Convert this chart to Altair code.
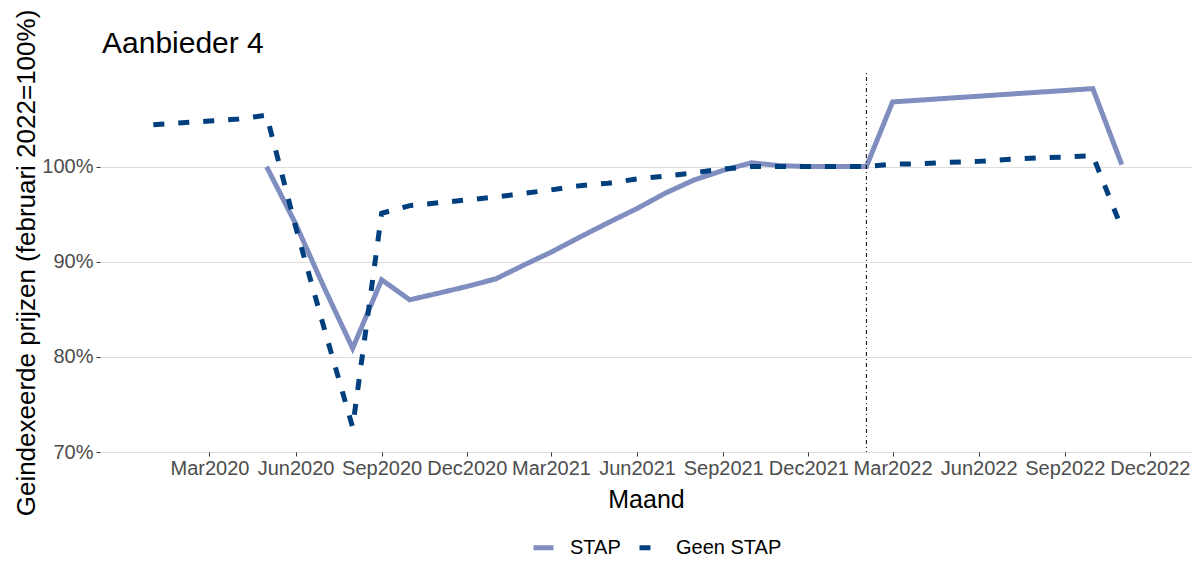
import altair as alt
import pandas as pd

# ---- data ----
stap_dates = [
    "2020-05-01", "2020-06-01", "2020-07-01", "2020-08-01", "2020-09-01",
    "2020-10-01", "2020-11-01", "2020-12-01", "2021-01-01", "2021-02-01",
    "2021-03-01", "2021-04-01", "2021-05-01", "2021-06-01", "2021-07-01",
    "2021-08-01", "2021-09-01", "2021-10-01", "2021-11-01", "2021-12-01",
    "2022-01-01", "2022-02-01", "2022-03-01", "2022-04-01", "2022-05-01",
    "2022-06-01", "2022-07-01", "2022-08-01", "2022-09-01", "2022-10-01",
    "2022-11-01",
]
stap_values = [
    1.000, 0.940, 0.874, 0.809, 0.881,
    0.860, 0.867, 0.874, 0.882, 0.897,
    0.910, 0.926, 0.941, 0.956, 0.972,
    0.986, 0.996, 1.004, 1.001, 1.000,
    1.000, 1.000, 1.068, 1.070, 1.072,
    1.074, 1.076, 1.078, 1.080, 1.082,
    1.002,
]

geen_dates = [
    "2020-01-01", "2020-02-01", "2020-03-01", "2020-04-01", "2020-05-01",
    "2020-06-01", "2020-07-01", "2020-08-01", "2020-09-01", "2020-10-01",
    "2020-11-01", "2020-12-01", "2021-01-01", "2021-02-01", "2021-03-01",
    "2021-04-01", "2021-05-01", "2021-06-01", "2021-07-01", "2021-08-01",
    "2021-09-01", "2021-10-01", "2021-11-01", "2021-12-01", "2022-01-01",
    "2022-02-01", "2022-03-01", "2022-04-01", "2022-05-01", "2022-06-01",
    "2022-07-01", "2022-08-01", "2022-09-01", "2022-10-01", "2022-11-01",
]
geen_values = [
    1.044, 1.046, 1.048, 1.050, 1.054,
    0.937, 0.832, 0.726, 0.951, 0.959,
    0.962, 0.965, 0.968, 0.972, 0.9755,
    0.980, 0.9825, 0.987, 0.990, 0.9935,
    0.9975, 1.000, 1.000, 1.000, 1.000,
    1.000, 1.0025, 1.003, 1.0045, 1.0055,
    1.0075, 1.009, 1.010, 1.0115, 0.935,
]

series_names = ["STAP", "Geen STAP"]
series_colors = ["#7F8EBF", "#003F7D"]
series_dashes = [[1, 0], [11, 14]]

tick_dates = [
    (2020, 3), (2020, 6), (2020, 9), (2020, 12),
    (2021, 3), (2021, 6), (2021, 9), (2021, 12),
    (2022, 3), (2022, 6), (2022, 9), (2022, 12),
]
y_ticks = [0.7, 0.8, 0.9, 1.0]
ref_date = (2022, 2, 1)

df = pd.concat([
    pd.DataFrame({"Maand": stap_dates, "waarde": stap_values, "reeks": "STAP"}),
    pd.DataFrame({"Maand": geen_dates, "waarde": geen_values, "reeks": "Geen STAP"}),
], ignore_index=True)

FONT = "Liberation Sans"

x_scale = alt.Scale(
    type="utc",
    domain=[alt.DateTime(year=2019, month=11, date=5, utc=True),
            alt.DateTime(year=2023, month=1, date=15, utc=True)],
)
y_scale = alt.Scale(domain=[0.70, 1.0984], nice=False, zero=False)

x_axis = alt.Axis(
    title="Maand",
    values=[alt.DateTime(year=y, month=m, date=1, utc=True) for y, m in tick_dates],
    format="%b%Y",
    labelFontSize=20, labelColor="#4D4D4D", labelFont=FONT,
    tickColor="#333333", tickSize=4, labelPadding=2,
    titleFontSize=25, titleFont=FONT, titleFontWeight="normal",
    titleColor="black", titlePadding=9,
    grid=False, domain=False, labelOverlap=False,
)
y_axis = alt.Axis(
    title="Geindexeerde prijzen (februari 2022=100%)",
    values=y_ticks, format=".0%",
    labelFontSize=20, labelColor="#4D4D4D", labelFont=FONT,
    tickColor="#333333", tickSize=4, labelPadding=3,
    titleFontSize=26, titleFont=FONT, titleFontWeight="normal",
    titleColor="black", titlePadding=2,
    grid=True, gridColor="#DEDEDE", gridWidth=1, domain=False,
)

legend = alt.Legend(
    title=None, orient="none", legendX=431, legendY=462,
    direction="horizontal", symbolType="stroke", symbolStrokeWidth=5,
    symbolSize=400, labelFontSize=20, labelFont=FONT, labelColor="black",
    columnPadding=8, labelOffset=14,
)

color_enc = alt.Color("reeks:N", scale=alt.Scale(domain=series_names, range=series_colors), legend=legend)
dash_enc = alt.StrokeDash("reeks:N", scale=alt.Scale(domain=series_names, range=series_dashes), legend=legend)

base = alt.Chart(df).mark_line(strokeWidth=5, strokeCap="butt").encode(
    x=alt.X("Maand:T", scale=x_scale, axis=x_axis),
    y=alt.Y("waarde:Q", scale=y_scale, axis=y_axis),
    color=color_enc,
    strokeDash=dash_enc,
)

stap_layer = base.transform_filter(alt.datum.reeks == "STAP")
geen_layer = base.transform_filter(alt.datum.reeks == "Geen STAP")

vline = alt.Chart(pd.DataFrame({"d": [0]})).mark_rule(
    color="black", strokeWidth=1, strokeDash=[1, 3, 4, 3]
).encode(
    x=alt.datum(alt.DateTime(year=ref_date[0], month=ref_date[1], date=ref_date[2], utc=True))
)

chart = alt.layer(stap_layer, geen_layer, vline).properties(
    width=1092, height=379,
    background="white",
    autosize=alt.AutoSizeParams(type="none"),
    padding={"left": 92, "top": 65, "right": 0, "bottom": 107},
    title=alt.TitleParams(
        "Aanbieder 4", anchor="start", frame="group", fontSize=30, font=FONT,
        fontWeight="normal", color="black", offset=12, dx=2, dy=62,
    ),
).configure_view(stroke=None)

chart.save("out.html", embed_options={"renderer": "svg", "actions": False})
